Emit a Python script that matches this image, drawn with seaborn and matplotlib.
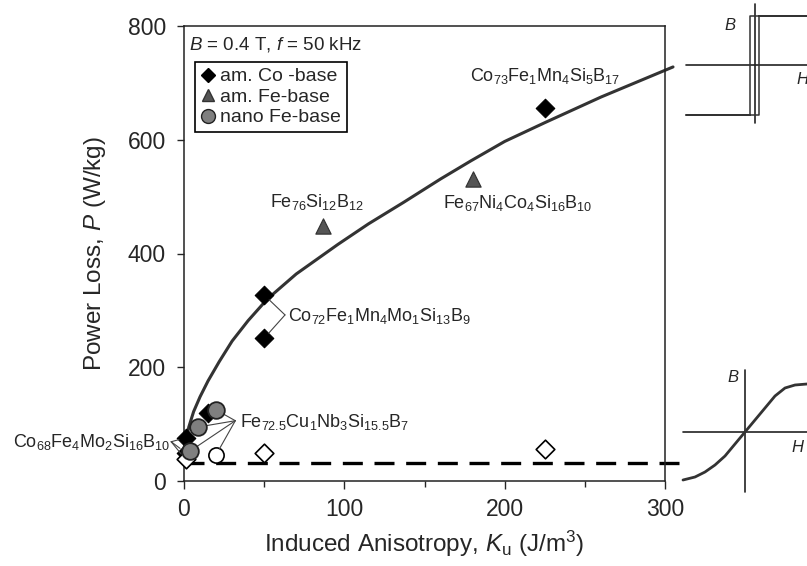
import numpy as np
import matplotlib
matplotlib.use('Agg')
import matplotlib.pyplot as plt
import seaborn as sns
from matplotlib.lines import Line2D

# fitted trend line
fit_x = [0, 1, 3, 6, 10, 15, 22, 30, 40, 52, 70, 96, 115, 137, 160, 179, 200, 225, 260, 305]
fit_y = [40, 68, 95, 122, 148, 176, 210, 246, 282, 320, 364, 416, 452, 490, 531, 563, 597, 630, 675, 728]

# amorphous Co-base (black diamonds)
co_x = [225, 50, 50, 15, 1, 1]
co_y = [655, 327, 251, 120, 76, 50]
# amorphous Fe-base (grey triangles)
fe_x = [87, 180]
fe_y = [448, 531]
# nanocrystalline Fe-base (grey circles)
nano_x = [20, 9, 4]
nano_y = [125, 95, 53]
# open symbols
open_d_x = [50, 225, 1]
open_d_y = [50, 57, 38]
open_c_x = [20]
open_c_y = [46]

base_level = 32

# hysteresis sketches (pixel offsets from the axis crossing)
sq_h = [-69, 4, 4, 52, 52, -5, -5, -69]
sq_b = [-50, -50, 49, 49, 49, 49, -50, -50]
sig_h = [-62, -50, -40, -30, -20, -10, 0, 10, 20, 30, 40, 50, 62]
sig_b = [-48, -45, -40, -33, -24, -12, 0, 12, 24, 36, 44, 47, 48]

sns.set_style('ticks')
plt.rcParams['font.family'] = ['Liberation Sans', 'DejaVu Sans']
plt.rcParams['mathtext.fontset'] = 'custom'
plt.rcParams['mathtext.rm'] = 'Liberation Sans'
plt.rcParams['mathtext.it'] = 'Liberation Sans:italic'
plt.rcParams['mathtext.bf'] = 'Liberation Sans:bold'

fig = plt.figure(figsize=(8.07, 5.66), dpi=100)
ax = fig.add_axes([184/807, 1-481/566, 481/807, 455/566])

sns.lineplot(x=fit_x, y=fit_y, ax=ax, color='#333333', lw=2.2, clip_on=False, zorder=2)
ax.plot([0, 310], [base_level, base_level], color='black', lw=2.4,
        dashes=(6, 3.5), clip_on=False, zorder=1)

mk = 120
sns.scatterplot(x=co_x, y=co_y, marker='D', s=mk*0.75, color='black', edgecolor='black',
                ax=ax, clip_on=False, zorder=3, legend=False)
sns.scatterplot(x=fe_x, y=fe_y, marker='^', s=mk, color='#555555', edgecolor='#333333',
                ax=ax, clip_on=False, zorder=3, legend=False)
sns.scatterplot(x=open_d_x, y=open_d_y, marker='D', s=mk*0.75, color='white', edgecolor='black',
                linewidth=1.2, ax=ax, clip_on=False, zorder=3, legend=False)
sns.scatterplot(x=open_c_x, y=open_c_y, marker='o', s=mk, color='white', edgecolor='black',
                linewidth=1.2, ax=ax, clip_on=False, zorder=3, legend=False)
sns.scatterplot(x=nano_x, y=nano_y, marker='o', s=mk*1.2, color='#7f7f7f', edgecolor='#222222',
                linewidth=1.3, ax=ax, clip_on=False, zorder=4, legend=False)

ax.set_xlim(0, 300)
ax.set_ylim(0, 800)
ax.set_xticks([0, 100, 200, 300])
ax.set_xticks([50, 150, 250], minor=True)
ax.set_yticks([0, 200, 400, 600, 800])
ax.tick_params(axis='x', which='major', direction='out', length=6, width=1.0, labelsize=16.5, pad=6)
ax.tick_params(axis='x', which='minor', direction='out', length=4, width=1.0)
ax.tick_params(axis='y', direction='out', length=5, width=1.0, labelsize=16.5, pad=8)
for s in ax.spines.values():
    s.set_linewidth(1.1)
    s.set_color('#222222')

ax.set_xlabel(r'Induced Anisotropy, $K_{\mathregular{u}}$ (J/m$^{\mathregular{3}}$)', fontsize=17.5, labelpad=6)
ax.set_ylabel(r'Power Loss, $P$ (W/kg)', fontsize=17.5, labelpad=14)

ax.text(3, 768, r'$B$ = 0.4 T, $f$ = 50 kHz', fontsize=13.5, ha='left', va='center')

handles = [
    Line2D([], [], ls='none', marker='D', ms=7, color='black'),
    Line2D([], [], ls='none', marker='^', ms=9, color='#555555', mec='#333333'),
    Line2D([], [], ls='none', marker='o', ms=10, color='#7f7f7f', mec='#222222'),
]
leg = ax.legend(handles, ['am. Co -base', 'am. Fe-base', 'nano Fe-base'],
                loc='upper left', bbox_to_anchor=(0.023, 0.921), borderaxespad=0,
                fontsize=14, handlelength=0.7, handletextpad=0.3, labelspacing=0.15,
                borderpad=0.3, fancybox=False, framealpha=1)
leg.get_frame().set_edgecolor('black')
leg.get_frame().set_linewidth(1.2)

lab = 13
ax.text(225, 712, r'Co$_{\mathregular{73}}$Fe$_{\mathregular{1}}$Mn$_{\mathregular{4}}$Si$_{\mathregular{5}}$B$_{\mathregular{17}}$',
        fontsize=lab, ha='center', va='center')
ax.text(83, 490, r'Fe$_{\mathregular{76}}$Si$_{\mathregular{12}}$B$_{\mathregular{12}}$',
        fontsize=lab, ha='center', va='center')
ax.text(208, 489, r'Fe$_{\mathregular{67}}$Ni$_{\mathregular{4}}$Co$_{\mathregular{4}}$Si$_{\mathregular{16}}$B$_{\mathregular{10}}$',
        fontsize=lab, ha='center', va='center')
ax.text(65, 290, r'Co$_{\mathregular{72}}$Fe$_{\mathregular{1}}$Mn$_{\mathregular{4}}$Mo$_{\mathregular{1}}$Si$_{\mathregular{13}}$B$_{\mathregular{9}}$',
        fontsize=lab, ha='left', va='center')
ax.text(35, 104, r'Fe$_{\mathregular{72.5}}$Cu$_{\mathregular{1}}$Nb$_{\mathregular{3}}$Si$_{\mathregular{15.5}}$B$_{\mathregular{7}}$',
        fontsize=lab, ha='left', va='center')
ax.text(-8.5, 69, r'Co$_{\mathregular{68}}$Fe$_{\mathregular{4}}$Mo$_{\mathregular{2}}$Si$_{\mathregular{16}}$B$_{\mathregular{10}}$',
        fontsize=lab, ha='right', va='center', clip_on=False)

lead = dict(arrowstyle='-', color='#444444', lw=0.8, shrinkA=0, shrinkB=5)
for px, py in zip(co_x[1:3], co_y[1:3]):
    ax.annotate('', xy=(px, py), xytext=(63, 292), arrowprops=lead, annotation_clip=False)
for px, py in list(zip(nano_x, nano_y)) + list(zip(open_c_x, open_c_y)):
    ax.annotate('', xy=(px, py), xytext=(32, 106), arrowprops=lead, annotation_clip=False)
for px, py in list(zip(co_x[4:], co_y[4:])) + [(open_d_x[2], open_d_y[2])]:
    ax.annotate('', xy=(px, py), xytext=(-8, 69), arrowprops=lead, annotation_clip=False)

# square loop sketch (top right)
ins1 = fig.add_axes([680/807, 1-130/566, 127/807, 130/566])
ins1.set_xlim(-75, 52)
ins1.set_ylim(-65, 65)
ins1.axis('off')
ins1.plot([-69, 52], [0, 0], color='#222222', lw=1.2)
ins1.plot([0, 0], [-58, 61], color='#222222', lw=1.2)
ins1.plot(sq_h, sq_b, color='#333333', lw=1.1)
ins1.text(-25, 40, 'B', fontsize=12, style='italic', ha='center', va='center')
ins1.text(47, -15, 'H', fontsize=12, style='italic', ha='center', va='center')

# sigmoid loop sketch (bottom right)
ins2 = fig.add_axes([680/807, 1-500/566, 127/807, 140/566])
ins2.set_xlim(-65, 62)
ins2.set_ylim(-68, 72)
ins2.axis('off')
ins2.plot([-62, 62], [0, 0], color='#222222', lw=1.2)
ins2.plot([0, 0], [-60, 62], color='#222222', lw=1.2)
ins2.plot(sig_h, sig_b, color='#333333', lw=2.0)
ins2.text(-12, 55, 'B', fontsize=12, style='italic', ha='center', va='center')
ins2.text(52, -15, 'H', fontsize=12, style='italic', ha='center', va='center')

fig.savefig('out.png', dpi=100)
